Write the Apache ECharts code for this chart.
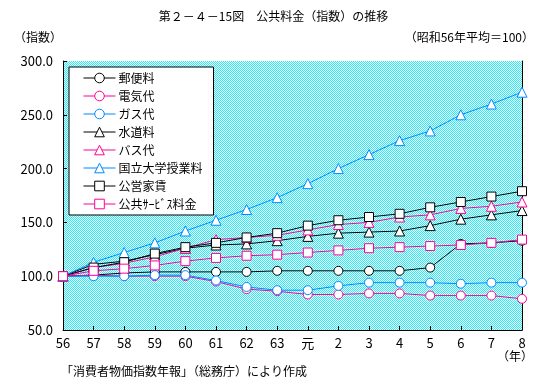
<!DOCTYPE html>
<html><head><meta charset="utf-8">
<script src="https://cdn.jsdelivr.net/npm/echarts@6/dist/echarts.min.js"></script>
<style>html,body{margin:0;padding:0;background:#fff}#c{width:547px;height:391px}</style>
</head><body><div id="c"></div>
<script>
const categories = ['56','57','58','59','60','61','62','63','元','2','3','4','5','6','7','8'];
const yubin   = [100,101,103,104,104,104,104,105,105,105,105,105,108,130,131,133];
const denki   = [100,101,100,100,100,95,88,86,83,83,84,84,82,82,82,79];
const gas     = [100,100,100,101,101,96,90,87,87,91,94,94,94,93,94,94];
const suido   = [100,111,114,120,126,129,130,133,137,140,141,142,147,153,157,161];
const bus     = [100,108,112,118,126,134,136,138,143,148,150,155,157,163,165,169];
const kokuritsu = [100,113,122,131,142,152,162,173,186,200,213,226,235,250,260,271];
const koei    = [100,108,113,121,127,131,136,140,147,152,155,158,164,169,174,179];
const service = [100,105,107,110,114,117,119,120,122,124,126,127,128,129,131,134];
const yTicks = [50,100,150,200,250,300];

const BLACK='#000000', PINK='#ff0099', BLUE='#0088ff';
const FONT = '"Noto Sans CJK JP", sans-serif';

const cv = document.createElement('canvas'); cv.width = 2; cv.height = 2;
const cx = cv.getContext('2d');
cx.fillStyle = '#ffffff'; cx.fillRect(0,0,2,2);
cx.fillStyle = '#22f0fa'; cx.fillRect(0,0,1,1); cx.fillRect(1,1,1,1);

function s(name, data, color, symbol, size){
  return {name, type:'line', data, symbol, symbolSize:size, showSymbol:true,
    lineStyle:{color, width:1},
    itemStyle:{color:'#ffffff', borderColor:color, borderWidth:1},
    animation:false, z:2};
}
const series = [
  s('郵便料', yubin, BLACK, 'circle', 9),
  s('電気代', denki, PINK, 'circle', 9),
  s('ガス代', gas, BLUE, 'circle', 9),
  s('水道料', suido, BLACK, 'triangle', 10),
  s('バス代', bus, PINK, 'triangle', 10),
  s('国立大学授業料', kokuritsu, BLUE, 'triangle', 10),
  s('公営家賃', koei, BLACK, 'rect', 9),
  s('公共ｻｰﾋﾞｽ料金', service, PINK, 'rect', 9)
];

const chart = echarts.init(document.getElementById('c'), null, {renderer:'canvas'});
chart.setOption({
  animation:false,
  textStyle:{fontFamily:FONT},
  grid:{left:63, right:25, top:61, bottom:61, show:true, borderWidth:0,
        backgroundColor:{image:cv, repeat:'repeat'}},
  xAxis:{type:'category', data:categories, boundaryGap:false,
    axisLine:{lineStyle:{color:BLACK, width:1}},
    axisTick:{inside:true, length:4, lineStyle:{color:BLACK}},
    axisLabel:{color:BLACK, fontSize:13, margin:7, fontFamily:FONT}},
  yAxis:[
    {type:'value', min:yTicks[0], max:yTicks[yTicks.length-1], interval:50,
     axisLine:{show:true, lineStyle:{color:BLACK}},
     axisTick:{show:true, inside:true, length:4, lineStyle:{color:BLACK}},
     splitLine:{show:false},
     axisLabel:{color:BLACK, fontSize:13, margin:10, fontFamily:FONT, formatter:v=>v.toFixed(1)}},
    {type:'value', min:yTicks[0], max:yTicks[yTicks.length-1], interval:50, position:'right',
     axisLine:{show:true, lineStyle:{color:BLACK}}, axisTick:{show:false},
     axisLabel:{show:false}, splitLine:{show:false}}
  ],
  legend:{orient:'vertical', left:69, top:67, itemWidth:32, itemHeight:12, itemGap:6,
    padding:[5,11,5,14], backgroundColor:'#ffffff', borderColor:BLACK, borderWidth:1,
    itemStyle:{borderWidth:1}, lineStyle:{width:1},
    textStyle:{fontSize:12, color:BLACK, fontFamily:FONT, lineHeight:12, padding:[0,0,0,-2]},
    data:series.map(x=>x.name)},
  series,
  graphic:[
    {type:'text', left:'center', top:10, style:{text:'第２－４－15図　公共料金（指数）の推移', font:'12px '+FONT, fill:BLACK}},
    {type:'text', left:14, top:31, style:{text:'（指数）', font:'12px '+FONT, fill:BLACK}},
    {type:'text', right:13, top:31, style:{text:'（昭和56年平均＝100）', font:'12px '+FONT, fill:BLACK}},
    {type:'text', right:14, top:350, style:{text:'（年）', font:'12px '+FONT, fill:BLACK}},
    {type:'text', left:61, top:365, style:{text:'「消費者物価指数年報」（総務庁）により作成', font:'12px '+FONT, fill:BLACK}}
  ]
});
</script></body></html>
